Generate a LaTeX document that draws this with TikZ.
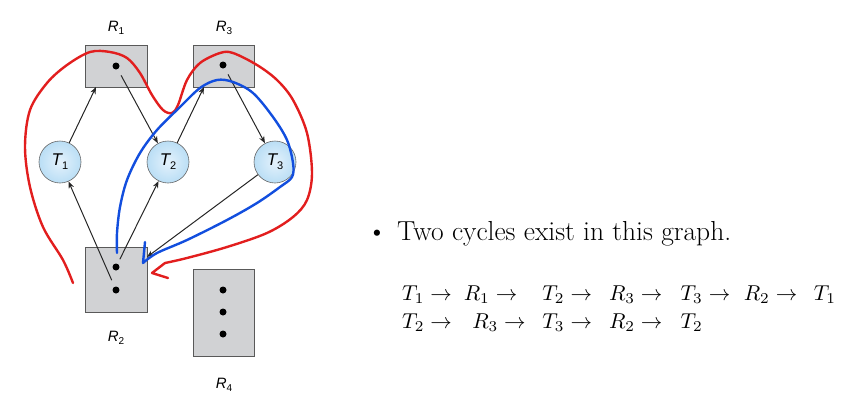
\documentclass[tikz,border=0pt]{standalone}
\usepackage{fontspec}
\setsansfont{Liberation Sans}
\usetikzlibrary{arrows.meta}
\newcommand\lsub[1]{\raisebox{-0.45ex}{\upshape\fontsize{10}{10}\selectfont #1}}
\newcommand\tsub[1]{\raisebox{-0.45ex}{\upshape\fontsize{11}{11}\selectfont #1}}
\newcommand\itm[2]{\makebox[#1pt][l]{$#2$}}
\begin{document}
\begin{tikzpicture}[x=1pt,y=-1pt,
  res/.style={draw=black!65, fill={rgb,255:red,209;green,210;blue,212}, line width=0.8pt, inner sep=0},
  proc/.style={circle, draw=black!60, line width=0.6pt, minimum size=42pt, inner sep=0,
    inner color={rgb,255:red,228;green,242;blue,252}, outer color={rgb,255:red,186;green,222;blue,245},
    font=\sffamily\itshape\fontsize{17}{17}\selectfont},
  dot/.style={circle, fill=black, minimum size=7pt, inner sep=0},
  lbl/.style={font=\sffamily\itshape\fontsize{15}{15}\selectfont},
  edge/.style={-{Stealth[length=7pt,width=5.5pt]}, line width=1pt, black!85},
  redc/.style={draw={rgb,255:red,226;green,30;blue,30}, line width=2.4pt, line cap=round, line join=round},
  bluec/.style={draw={rgb,255:red,18;green,78;blue,222}, line width=2.4pt, line cap=round, line join=round}
]
\useasboundingbox (0,0) rectangle (859,407);

% resources
\node[res, minimum width=62pt, minimum height=42pt] (R1) at (116,66) {};
\node[res, minimum width=61pt, minimum height=42pt] (R3) at (223.5,66) {};
\node[res, minimum width=62pt, minimum height=65pt] (R2) at (116,279.5) {};
\node[res, minimum width=61pt, minimum height=87pt] (R4) at (223.5,312.5) {};

\node[dot] (d1) at (116,66) {};
\node[dot] (d3) at (223,65) {};
\node[dot] (d2a) at (116,267) {};
\node[dot] (d2b) at (116,290) {};
\node[dot] (d4a) at (223,290) {};
\node[dot] (d4b) at (223,312) {};
\node[dot] (d4c) at (223,334) {};

\node[lbl] (l1) at (116,28) {R\lsub{1}};
\node[lbl] (l3) at (224,28) {R\lsub{3}};
\node[lbl] (l2) at (116,338) {R\lsub{2}};
\node[lbl] (l4) at (224,385) {R\lsub{4}};

% processes
\node[proc] (T1) at (60,162) {T\tsub{1}};
\node[proc] (T2) at (168,162) {T\tsub{2}};
\node[proc] (T3) at (275,162) {T\tsub{3}};

\coordinate (r1in) at (96,87);
\coordinate (r3in) at (204,87);
\coordinate (r2in) at (147,257);

\draw[edge] (T1) -- (r1in);
\draw[edge, shorten <=7pt] (d1) -- (T2);
\draw[edge] (T2) -- (r3in);
\draw[edge, shorten <=7pt] (d3) -- (T3);
\draw[edge, shorten <=7pt] (d2b) -- (T1);
\draw[edge, shorten <=5pt] (d2a) -- (T2);
\draw[edge] (T3) -- (r2in);

% red cycle
\draw[redc] plot[smooth, tension=0.55] coordinates {
 (73,283) (63,260) (43,227) (30,187) (25,147) (30,110) (47,83) (67,65) (90,52)
 (110,52) (127,58) (140,73) (152,95) (163,110) (172,113) (178,105) (187,80)
 (200,63) (220,53) (233,53) (257,65) (277,80) (293,100) (307,133) (312,173)
 (307,200) (293,217) (267,233) (227,247) (187,258) (165,263)}
 -- (152,273) -- (168,278);

% blue cycle
\draw[bluec] plot[smooth, tension=0.55] coordinates {
 (117,253) (117,233) (120,207) (127,180) (140,153) (157,130) (180,107) (200,88)
 (217,80) (233,82) (253,93) (273,117) (287,140) (293,163) (292,177) (280,187)
 (257,203) (227,220) (187,240) (157,253) (143,263)}
 -- (145,242);

% text
\node[anchor=base, inner sep=0, font=\fontsize{27.5}{30}\selectfont] (bul) at (377,240) {\textbullet};
\node[anchor=base west, inner sep=0, font=\fontsize{27.5}{30}\selectfont] (txt) at (397,240) {Two cycles exist in this graph.};
\node[anchor=base west, inner sep=0] (c1) at (402,300)
 {\scalebox{2.15}{\itm{28.7}{T_1 \rightarrow}\itm{36.5}{R_1 \rightarrow}\itm{31.0}{T_2 \rightarrow}\itm{33.3}{R_3 \rightarrow}\itm{29.4}{T_3 \rightarrow}\itm{32.6}{R_2 \rightarrow}$T_1$}};
\node[anchor=base west, inner sep=0] (c2) at (402,328)
 {\scalebox{2.15}{\itm{32.6}{T_2 \rightarrow}\itm{32.6}{R_3 \rightarrow}\itm{31.0}{T_3 \rightarrow}\itm{33.3}{R_2 \rightarrow}$T_2$}};
\end{tikzpicture}
\end{document}
